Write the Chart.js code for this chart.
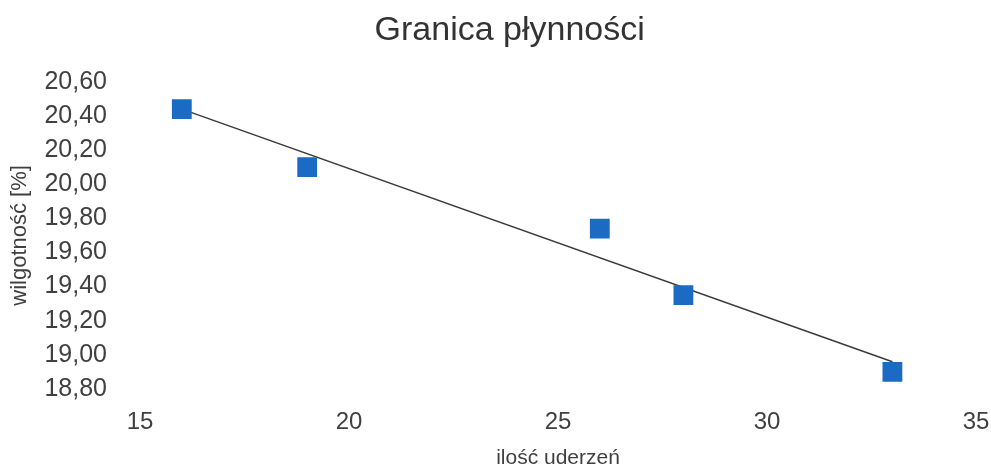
<!DOCTYPE html>
<html>
<head>
<meta charset="utf-8">
<script src="https://cdn.jsdelivr.net/npm/chart.js@4.4.1/dist/chart.umd.min.js"></script>
<style>
  html, body { margin: 0; padding: 0; background: #fff; }
  #wrap { width: 991px; height: 469px; }
</style>
</head>
<body>
<div id="wrap"><canvas id="myChart" width="991" height="469"></canvas></div>
<script>
// punkty pomiarowe
var uderzenia = [16, 19, 26, 28, 33];
var wilgotnosc = [20.44, 20.10, 19.74, 19.35, 18.90];
// linia trendu
var trendX = [16, 33];
var trendY = [20.44, 18.96];

function pts(xs, ys) {
    return xs.map(function (x, i) { return { x: x, y: ys[i] }; });
}

var txt = '#404040';
var ctx = document.getElementById('myChart').getContext('2d');
var myChart = new Chart(ctx, {
    type: 'scatter',
    data: {
        datasets: [{
            type: 'line',
            data: pts(trendX, trendY),
            borderColor: '#3a3a3a',
            borderWidth: 1.5,
            pointRadius: 0,
            fill: false,
            order: 2
        }, {
            data: pts(uderzenia, wilgotnosc),
            pointStyle: 'rect',
            pointRadius: 14,
            backgroundColor: '#1b6ac4',
            borderColor: '#1b6ac4',
            borderWidth: 0,
            order: 1
        }]
    },
    options: {
        responsive: false,
        animation: false,
        layout: { padding: { left: 0, right: 0, top: 0, bottom: 0 } },
        plugins: {
            legend: { display: false },
            tooltip: { enabled: false },
            title: {
                display: true,
                text: '   Granica płynności',
                color: '#333',
                font: { family: 'Liberation Sans', size: 34, weight: 'normal' },
                padding: { top: 10, bottom: 31 }
            }
        },
        scales: {
            x: {
                type: 'linear',
                min: 15,
                max: 35,
                ticks: {
                    stepSize: 5,
                    color: txt,
                    padding: 11,
                    font: { family: 'Liberation Sans', size: 24 }
                },
                grid: { display: false },
                border: { display: false },
                title: {
                    display: true,
                    text: 'ilość uderzeń',
                    color: txt,
                    font: { family: 'Liberation Sans', size: 21, lineHeight: 1 },
                    padding: { top: 0, bottom: 0 }
                },
                afterFit: function (s) { s.height = 80; s.paddingRight = 15; }
            },
            y: {
                min: 18.8,
                max: 20.6,
                ticks: {
                    stepSize: 0.2,
                    color: txt,
                    padding: 25,
                    font: { family: 'Liberation Sans', size: 25 },
                    callback: function (v) { return v.toFixed(2).replace('.', ','); }
                },
                grid: { display: false },
                border: { display: false },
                title: {
                    display: true,
                    text: 'wilgotność [%]',
                    color: txt,
                    font: { family: 'Liberation Sans', size: 22 },
                    padding: { top: 7, bottom: 0 }
                },
                afterFit: function (s) { s.width = 140; }
            }
        }
    }
});
</script>
</body>
</html>
